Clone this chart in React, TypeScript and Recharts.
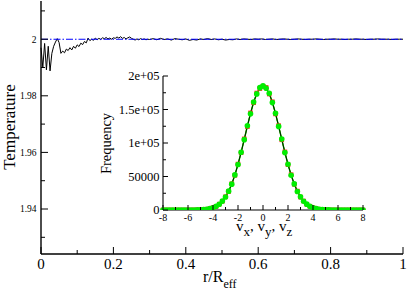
import React from 'react';
import { ComposedChart, Line, XAxis, YAxis } from 'recharts';

// ---------- main chart data ----------
const rValues = [
  0, 0.005, 0.01, 0.015, 0.02, 0.025, 0.03, 0.035, 0.04, 0.045, 0.05, 0.055, 0.06, 0.065, 0.07, 0.075,
  0.08, 0.085, 0.09, 0.095, 0.1, 0.105, 0.11, 0.115, 0.12, 0.125, 0.13, 0.135, 0.14, 0.145, 0.15, 0.155,
  0.16, 0.165, 0.17, 0.175, 0.18, 0.185, 0.19, 0.195, 0.2, 0.205, 0.21, 0.215, 0.22, 0.225, 0.23, 0.235,
  0.24, 0.245, 0.25, 0.255, 0.26, 0.265, 0.27, 0.275, 0.28, 0.285, 0.29, 0.295, 0.3,
  0.31, 0.32, 0.33, 0.34, 0.35, 0.36, 0.37, 0.38, 0.39, 0.4, 0.41, 0.42, 0.43, 0.44, 0.45, 0.46, 0.47,
  0.48, 0.49, 0.5, 0.51, 0.52, 0.53, 0.54, 0.55, 0.56, 0.57, 0.58, 0.59, 0.6, 0.61, 0.62, 0.63, 0.64,
  0.65, 0.66, 0.67, 0.68, 0.69, 0.7, 0.71, 0.72, 0.73, 0.74, 0.75, 0.76, 0.77, 0.78, 0.79, 0.8, 0.81,
  0.82, 0.83, 0.84, 0.85, 0.86, 0.87, 0.88, 0.89, 0.9, 0.91, 0.92, 0.93, 0.94, 0.95, 0.96, 0.97, 0.98,
  0.99, 1.0,
];
const temperature = [
  1.997, 1.99, 1.9985, 1.9892, 1.9975, 1.9888, 1.995, 1.9975, 1.999, 2.0002, 1.9988, 1.995, 1.9958,
  1.9952, 1.9965, 1.996, 1.997, 1.9962, 1.9975, 1.9968, 1.998, 1.9974, 1.9986, 1.9981, 1.9992, 1.9987,
  2.0004, 1.9995, 2.0, 1.9996, 2.0004, 1.9998, 2.0003, 1.9999, 2.0005, 2.0002, 2.0006, 2.0001, 2.0004,
  2.0, 2.0005, 2.0003, 2.0008, 2.0004, 2.0009, 2.0003, 2.0006, 2.0001, 2.0005, 2.0008, 2.0003, 2.0,
  1.9997, 2.0001, 1.9998, 2.0002, 1.9999, 2.0001, 1.9998, 2.0, 1.9999,
  2.0002, 1.9998, 2.0003, 1.9999, 2.0001, 1.9997, 2.0002, 2.0, 1.9998, 2.0001, 1.9996, 1.9999, 1.9997,
  2.0001, 1.9999, 2.0002, 1.9999, 2.0001, 1.9998, 2.0, 1.9997, 1.9999, 1.9998, 2.0001, 1.9999, 2.0001,
  2.0, 1.9999, 2.0001, 2.0, 2.0001, 1.9999, 2.0, 2.0001, 1.9999, 2.0, 2.0001, 2.0, 1.9999, 2.0, 2.0001,
  2.0, 1.9999, 2.0, 2.0, 2.0001, 2.0, 1.9999, 2.0, 2.0, 2.0001, 2.0, 2.0, 1.9999, 2.0, 2.0, 2.0001, 2.0,
  2.0, 1.9999, 2.0, 2.0, 2.0001, 2.0, 2.0, 2.0, 1.9999, 2.0, 2.0, 2.0,
];
const refR = [0, 1];
const refT = [2, 2];

const xMajor = [0, 0.2, 0.4, 0.6, 0.8, 1];
const xMinor = [0.1, 0.3, 0.5, 0.7, 0.9];
const xLabels = ['0', '0.2', '0.4', '0.6', '0.8', '1'];
const yMajor = [1.94, 1.96, 1.98, 2];
const yMinor = [1.93, 1.95, 1.97, 1.99, 2.01];
const yLabels = ['1.94', '1.96', '1.98', '2'];
const yDomain = [1.9241, 2.0135];

// ---------- inset data ----------
const vBins = [
  -8, -7.75, -7.5, -7.25, -7, -6.75, -6.5, -6.25, -6, -5.75, -5.5, -5.25, -5, -4.75, -4.5, -4.25, -4,
  -3.75, -3.5, -3.25, -3, -2.75, -2.5, -2.25, -2, -1.75, -1.5, -1.25, -1, -0.75, -0.5, -0.25, 0,
  0.25, 0.5, 0.75, 1, 1.25, 1.5, 1.75, 2, 2.25, 2.5, 2.75, 3, 3.25, 3.5, 3.75, 4, 4.25, 4.5, 4.75, 5,
  5.25, 5.5, 5.75, 6, 6.25, 6.5, 6.75, 7, 7.25, 7.5, 7.75, 8,
];
const freqRed = [
  0, 0, 0, 1, 2, 3, 6, 12, 25, 46, 101, 180, 364, 648, 1190, 1985, 3420, 5440, 8730, 13050, 19720,
  27660, 39150, 51800, 68540, 85500, 106100, 124500, 144900, 160100, 174600, 181300, 184700, 182900,
  173100, 161500, 143400, 125900, 104800, 86700, 67600, 52700, 38400, 28250, 19300, 13350, 8560, 5580,
  3350, 2050, 1150, 670, 350, 195, 92, 50, 21, 12, 4, 2, 1, 1, 0, 0, 0,
];
const freqGreen = [
  0, 0, 1, 0, 1, 2, 5, 10, 24, 50, 94, 192, 350, 672, 1160, 2040, 3370, 5530, 8600, 13260, 19430,
  28120, 38600, 52400, 67800, 86300, 105000, 125600, 143700, 161200, 173300, 182600, 185300, 181800,
  174200, 160300, 144500, 124800, 105800, 85700, 68300, 51900, 38950, 27700, 19620, 13100, 8700, 5460,
  3410, 2000, 1180, 655, 362, 185, 98, 46, 24, 10, 5, 2, 0, 1, 0, 0, 0,
];
const freqTheory = [
  0, 0, 0, 0, 1, 2, 5, 11, 23, 48, 96, 188, 357, 660, 1170, 2020, 3390, 5500, 8650, 13190, 19500,
  27930, 38780, 52180, 68060, 86030, 105410, 125180, 144080, 160730, 173790, 182130, 185000, 182130,
  173790, 160730, 144080, 125180, 105410, 86030, 68060, 52180, 38780, 27930, 19500, 13190, 8650, 5500,
  3390, 2020, 1170, 660, 357, 188, 96, 48, 23, 11, 5, 2, 1, 0, 0, 0, 0,
];
const vMajor = [-8, -6, -4, -2, 0, 2, 4, 6, 8];
const vMinor = [-7, -5, -3, -1, 1, 3, 5, 7];
const vLabels = ['-8', '-6', '-4', '-2', '0', '2', '4', '6', '8'];
const fMajor = [0, 50000, 100000, 150000, 200000];
const fMinor = [25000, 75000, 125000, 175000];
const fLabels = ['0', '50000', '1e+05', '1.5e+05', '2e+05'];

const FONT = "'Liberation Serif', 'Times New Roman', Times, serif";

const mainData = rValues.map((r, i) => ({ r, t: temperature[i] }));
const refData = refR.map((r, i) => ({ r, t: refT[i] }));
const insetData = vBins.map((v, i) => ({ v, red: freqRed[i], green: freqGreen[i], theory: freqTheory[i] }));

type Side = 'bottom' | 'top' | 'left' | 'right';
interface TickOpts {
  majors: number[];
  labels?: string[];
  fontSize?: number;
  major: number;
  minor: number;
  gap?: number;
}

function makeTick(side: Side, o: TickOpts) {
  return (props: any) => {
    const { x, y, payload } = props;
    const v = payload.value as number;
    const idx = o.majors.findIndex((m) => Math.abs(m - v) < 1e-9);
    const isMajor = idx >= 0;
    const len = isMajor ? o.major : o.minor;
    let x2 = x;
    let y2 = y;
    if (side === 'bottom') y2 = y - len;
    if (side === 'top') y2 = y + len;
    if (side === 'left') x2 = x + len;
    if (side === 'right') x2 = x - len;
    let label: React.ReactNode = null;
    const st = { fontFamily: FONT, fontSize: o.fontSize, fill: '#000' } as React.CSSProperties;
    if (o.labels && isMajor) {
      const text = o.labels[idx];
      if (side === 'bottom') {
        label = (
          <text x={x} y={y + (o.gap || 0)} textAnchor="middle" style={st}>
            {text}
          </text>
        );
      } else if (side === 'left') {
        label = (
          <text x={x - (o.gap || 0)} y={y} dy="0.35em" textAnchor="end" style={st}>
            {text}
          </text>
        );
      }
    }
    return (
      <g>
        <line x1={x} y1={y} x2={x2} y2={y2} stroke="#000" strokeWidth={1} />
        {label}
      </g>
    );
  };
}

const axisLineMain = { stroke: '#000', strokeWidth: 1.4 };
const axisLineInset = { stroke: '#000', strokeWidth: 1.1 };

const xTicksMain = [...xMajor, ...xMinor].sort((a, b) => a - b);
const yTicksMain = [...yMajor, ...yMinor].sort((a, b) => a - b);
const vTicks = [...vMajor, ...vMinor].sort((a, b) => a - b);
const fTicks = [...fMajor, ...fMinor].sort((a, b) => a - b);

function SquareDot(props: any) {
  const { cx, cy } = props;
  if (cx == null || cy == null) return <g />;
  return <rect x={cx - 2.3} y={cy - 2.3} width={4.6} height={4.6} fill="#ff2020" />;
}
function CircleDot(props: any) {
  const { cx, cy } = props;
  if (cx == null || cy == null) return <g />;
  return <circle cx={cx} cy={cy} r={2.8} fill="#00ee00" />;
}

const titleStyle = (size: number): React.CSSProperties => ({ fontFamily: FONT, fontSize: size, fill: '#000' });

export default function App() {
  return (
    <div style={{ position: 'absolute', left: 0, top: 0, width: 407, height: 292, background: '#fff', overflow: 'hidden' }}>
      <div style={{ position: 'absolute', left: 0, top: 0 }}>
        <ComposedChart width={407} height={292} data={mainData} margin={{ top: 1, right: 4, bottom: 0, left: 0 }}>
          <XAxis
            xAxisId="b"
            dataKey="r"
            type="number"
            domain={[0, 1]}
            ticks={xTicksMain}
            interval={0}
            height={38}
            tickSize={0}
            tickMargin={0}
            tickLine={false}
            axisLine={axisLineMain}
            tick={makeTick('bottom', { majors: xMajor, labels: xLabels, fontSize: 15, major: 7, minor: 4, gap: 14.5 })}
          />
          <XAxis
            xAxisId="t"
            orientation="top"
            dataKey="r"
            type="number"
            domain={[0, 1]}
            ticks={xTicksMain}
            interval={0}
            height={0}
            tickSize={0}
            tickMargin={0}
            tickLine={false}
            axisLine={axisLineMain}
            tick={makeTick('top', { majors: xMajor, major: 7, minor: 4 })}
          />
          <YAxis
            yAxisId="l"
            type="number"
            domain={yDomain}
            allowDataOverflow
            ticks={yTicksMain}
            interval={0}
            width={41}
            tickSize={0}
            tickMargin={0}
            tickLine={false}
            axisLine={axisLineMain}
            tick={makeTick('left', { majors: yMajor, labels: yLabels, fontSize: 9.5, major: 7, minor: 4, gap: 4.5 })}
          />
          <YAxis
            yAxisId="rt"
            orientation="right"
            type="number"
            domain={yDomain}
            allowDataOverflow
            ticks={yTicksMain}
            interval={0}
            width={0}
            tickSize={0}
            tickMargin={0}
            tickLine={false}
            axisLine={axisLineMain}
            tick={makeTick('right', { majors: yMajor, major: 7, minor: 4 })}
          />
          <Line
            xAxisId="b"
            yAxisId="l"
            dataKey="t"
            type="linear"
            stroke="#000"
            strokeWidth={1}
            dot={false}
            isAnimationActive={false}
          />
          <Line
            xAxisId="b"
            yAxisId="l"
            data={refData}
            dataKey="t"
            type="linear"
            stroke="#0000ff"
            strokeWidth={1.1}
            strokeDasharray="7 2 1.5 2"
            dot={false}
            isAnimationActive={false}
          />
        </ComposedChart>
      </div>
      <div style={{ position: 'absolute', left: 0, top: 0 }}>
        <ComposedChart width={407} height={292} data={insetData} margin={{ top: 76, right: 44, bottom: 58, left: 100 }}>
          <XAxis
            xAxisId="b"
            dataKey="v"
            type="number"
            domain={[-8, 8]}
            ticks={vTicks}
            interval={0}
            height={24}
            tickSize={0}
            tickMargin={0}
            tickLine={false}
            axisLine={axisLineInset}
            tick={makeTick('bottom', { majors: vMajor, labels: vLabels, fontSize: 10, major: 5, minor: 3, gap: 10.5 })}
          />
          <XAxis
            xAxisId="t"
            orientation="top"
            dataKey="v"
            type="number"
            domain={[-8, 8]}
            ticks={vTicks}
            interval={0}
            height={0}
            tickSize={0}
            tickMargin={0}
            tickLine={false}
            axisLine={axisLineInset}
            tick={makeTick('top', { majors: vMajor, major: 5, minor: 3 })}
          />
          <YAxis
            yAxisId="l"
            type="number"
            domain={[0, 200000]}
            allowDataOverflow
            ticks={fTicks}
            interval={0}
            width={63}
            tickSize={0}
            tickMargin={0}
            tickLine={false}
            axisLine={axisLineInset}
            tick={makeTick('left', { majors: fMajor, labels: fLabels, fontSize: 12.5, major: 5, minor: 3, gap: 3.5 })}
          />
          <YAxis
            yAxisId="rt"
            orientation="right"
            type="number"
            domain={[0, 200000]}
            allowDataOverflow
            ticks={fTicks}
            interval={0}
            width={0}
            tickSize={0}
            tickMargin={0}
            tickLine={false}
            axisLine={axisLineInset}
            tick={makeTick('right', { majors: fMajor, major: 5, minor: 3 })}
          />
          <Line
            xAxisId="b"
            yAxisId="l"
            dataKey="red"
            type="linear"
            stroke="#ff0000"
            strokeWidth={1}
            dot={<SquareDot />}
            isAnimationActive={false}
          />
          <Line
            xAxisId="b"
            yAxisId="l"
            dataKey="green"
            type="linear"
            stroke="#00ee00"
            strokeWidth={1.5}
            dot={<CircleDot />}
            isAnimationActive={false}
          />
          <Line
            xAxisId="b"
            yAxisId="l"
            dataKey="theory"
            type="linear"
            stroke="#000"
            strokeWidth={0.9}
            dot={false}
            isAnimationActive={false}
          />
        </ComposedChart>
      </div>
      <svg width={407} height={292} style={{ position: 'absolute', left: 0, top: 0, pointerEvents: 'none' }}>
        <text x={14.5} y={127} transform="rotate(-90 14.5 127)" textAnchor="middle" style={titleStyle(17)}>
          Temperature
        </text>
        <text x={203} y={282} style={titleStyle(16)}>
          r/R<tspan style={{ fontSize: 12 }} dy={6}>eff</tspan>
        </text>
        <text x={110.5} y={143.5} transform="rotate(-90 110.5 143.5)" textAnchor="middle" style={titleStyle(14.5)}>
          Frequency
        </text>
        <text x={236} y={231} style={titleStyle(15)}>
          v<tspan style={{ fontSize: 13 }} dy={5}>x</tspan>
          <tspan dy={-5}>, v</tspan>
          <tspan style={{ fontSize: 13 }} dy={5}>y</tspan>
          <tspan dy={-5}>, v</tspan>
          <tspan style={{ fontSize: 13 }} dy={5}>z</tspan>
        </text>
      </svg>
    </div>
  );
}
